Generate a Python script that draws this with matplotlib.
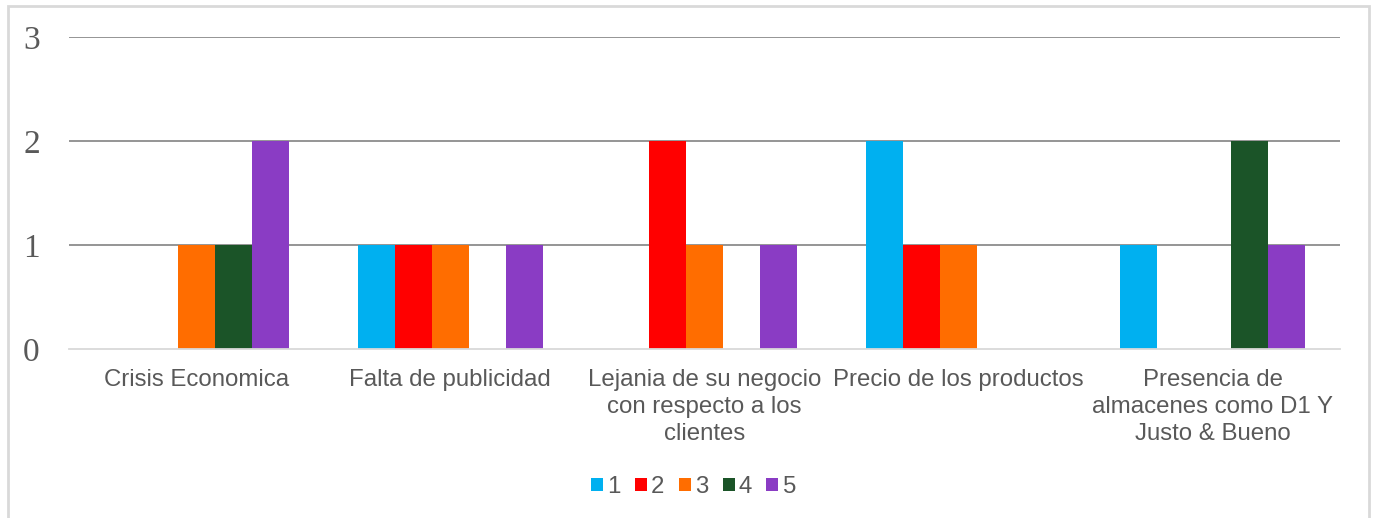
import matplotlib
matplotlib.use("Agg")
import matplotlib.pyplot as plt
import numpy as np
from matplotlib.patches import Rectangle

categories = [
    "Crisis Economica",
    "Falta de publicidad",
    "Lejania de su negocio\ncon respecto a los\nclientes",
    "Precio de los productos",
    "Presencia de\nalmacenes como D1 Y\nJusto & Bueno",
]
series_names = ["1", "2", "3", "4", "5"]
s1 = [0, 1, 0, 2, 1]
s2 = [0, 1, 2, 1, 0]
s3 = [1, 1, 1, 1, 0]
s4 = [1, 0, 0, 0, 2]
s5 = [2, 1, 1, 0, 1]
yticks = [0, 1, 2, 3]

series = [s1, s2, s3, s4, s5]
colors = ["#00B0F0", "#FF0000", "#FF6D00", "#1B5428", "#8A3CC4"]

W, H = 1376, 518
fig = plt.figure(figsize=(W / 100, H / 100), dpi=100)
fig.patch.set_facecolor("white")

# outer chart frame
fig.add_artist(Rectangle((8 / W, -0.01), (1369 - 8) / W, (H - 6) / H + 0.01,
                         transform=fig.transFigure, fill=False,
                         edgecolor="#D9D9D9", linewidth=2))

ax = fig.add_axes([69 / W, 1 - 349 / H, (1340 - 69) / W, (349 - 37) / H])

x = np.arange(len(categories))
bw = 0.1456
for i, (vals, col, name) in enumerate(zip(series, colors, series_names)):
    ax.bar(x + (i - 2) * bw, vals, width=bw, color=col, label=name, zorder=3)

ax.set_xlim(-0.5, len(categories) - 0.5)
ax.set_ylim(0, 3)
ax.set_yticks(yticks)
ax.set_yticklabels([str(t) for t in yticks], family="Liberation Serif",
                   fontsize=24, color="#595959")
ax.tick_params(axis="y", length=0, pad=21)
ax.set_xticks(x)
ax.set_xticklabels(categories, family="Liberation Sans", fontsize=17.3,
                   color="#595959", linespacing=1.3)
ax.tick_params(axis="x", length=0, pad=14.5)

for t in yticks[1:]:
    ax.axhline(t, color="#8C8C8C", linewidth=1.3, zorder=1)
for s in ["top", "right", "left"]:
    ax.spines[s].set_visible(False)
ax.spines["bottom"].set_color("#D9D9D9")
ax.spines["bottom"].set_linewidth(1.3)
ax.spines["bottom"].set_zorder(4)

leg = fig.legend(loc="center", bbox_to_anchor=(0.504, 1 - 487 / H), ncol=5,
                 frameon=False, handlelength=0.5, handleheight=0.5,
                 handletextpad=0.17, columnspacing=0.6, borderpad=0,
                 prop={"family": "Liberation Sans", "size": 17.3})
for t in leg.get_texts():
    t.set_color("#595959")

fig.savefig("out.png", dpi=100, facecolor="white")
